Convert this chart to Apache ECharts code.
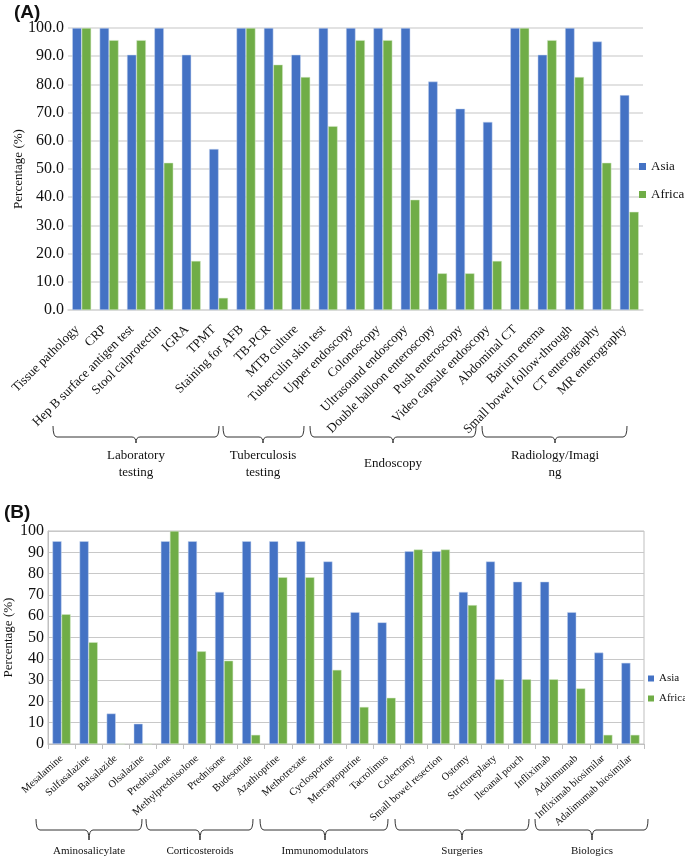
<!DOCTYPE html>
<html><head><meta charset="utf-8">
<script src="https://cdn.jsdelivr.net/npm/echarts@6/dist/echarts.min.js"></script>
<style>html,body{margin:0;padding:0;background:#fff}#c{width:685px;height:858px}</style>
</head><body><div id="c"></div>
<script>
const catsA = ["Tissue pathology","CRP","Hep B surface antigen test","Stool calprotectin","IGRA","TPMT","Staining for AFB","TB-PCR","MTB culture","Tuberculin skin test","Upper endoscopy","Colonoscopy","Ultrasound endoscopy","Double balloon enteroscopy","Push enteroscopy","Video capsule endoscopy","Abdominal CT","Barium enema","Small bowel follow-through","CT enterography","MR enterography"];
const asiaA = [100,100,90.5,100,90.5,57.1,100,100,90.5,100,100,100,100,81.0,71.4,66.7,100,90.5,100,95.2,76.2];
const africaA = [100,95.7,95.7,52.2,17.4,4.3,100,87.0,82.6,65.2,95.7,95.7,39.1,13.0,13.0,17.4,100,95.7,82.6,52.2,34.8];

const catsB = ["Mesalamine","Sulfasalazine","Balsalazide","Olsalazine","Prednisolone","Methylprednisolone","Prednisone","Budesonide","Azathioprine","Methotrexate","Cyclosporine","Mercaptopurine","Tacrolimus","Colectomy","Small bowel resection","Ostomy","Strictureplasty","Ileoanal pouch","Infliximab","Adalimumab","Infliximab biosimilar","Adalimumab biosimilar"];
const asiaB = [95.2,95.2,14.3,9.5,95.2,95.2,71.4,95.2,95.2,95.2,85.7,61.9,57.1,90.5,90.5,71.4,85.7,76.2,76.2,61.9,42.9,38.1];
const africaB = [60.9,47.8,0,0,100,43.5,39.1,4.3,78.3,78.3,34.8,17.4,21.7,91.3,91.3,65.2,30.4,30.4,30.4,26.1,4.3,4.3];

const groupsA = [
  {name:"Laboratory\ntesting", x1:53, x2:219, cx:136},
  {name:"Tuberculosis\ntesting", x1:223, x2:304, cx:263},
  {name:"Endoscopy", x1:310, x2:476, cx:393},
  {name:"Radiology/Imagi\nng", x1:482, x2:627, cx:555}
];
const groupsB = [
  {name:"Aminosalicylate", x1:36, x2:142, cx:89},
  {name:"Corticosteroids", x1:146, x2:253, cx:200},
  {name:"Immunomodulators", x1:260, x2:388, cx:325},
  {name:"Surgeries", x1:395, x2:529, cx:462},
  {name:"Biologics", x1:535, x2:648, cx:592}
];

const serif = "'Liberation Serif','Times New Roman',serif";
const BLUE = '#4472C4', GREEN = '#70AD47';

function brace(g, top, bot, tip, labelY, fs){
  const cx = g.cx, r = 4;
  const st = {stroke:'#333', lineWidth:1, fill:null};
  const curve = (x1,y1,cx1,cy1,x2,y2) => ({type:'bezierCurve', shape:{x1,y1,cpx1:cx1,cpy1:cy1,x2,y2}, style:st, silent:true});
  const line = (x1,y1,x2,y2) => ({type:'line', shape:{x1,y1,x2,y2}, style:st, silent:true});
  return [
    curve(g.x1, top, g.x1, bot, g.x1+r, bot),
    line(g.x1+r, bot, cx-r, bot),
    curve(cx-r, bot, cx, bot, cx, tip),
    curve(cx, tip, cx, bot, cx+r, bot),
    line(cx+r, bot, g.x2-r, bot),
    curve(g.x2-r, bot, g.x2, bot, g.x2, top),
    {type:'text', x:cx, y:labelY, silent:true, style:{text:g.name, font:fs+'px '+serif, fill:'#111', align:'center', verticalAlign:'middle', lineHeight:17}}
  ];
}

const graphics = [];
groupsA.forEach(g => graphics.push(...brace(g, 426, 437, 443, 464, 13)));
groupsB.forEach(g => graphics.push(...brace(g, 819, 830, 840, 851, 11)));

const chart = echarts.init(document.getElementById('c'));
chart.setOption({
  animation:false,
  title:[
    {text:'(A)', left:14, top:3, padding:0, textStyle:{fontFamily:"'Liberation Sans',Arial,sans-serif", fontWeight:'bold', fontSize:19, color:'#111'}},
    {text:'(B)', left:4, top:503, padding:0, textStyle:{fontFamily:"'Liberation Sans',Arial,sans-serif", fontWeight:'bold', fontSize:19, color:'#111'}}
  ],
  legend:[
    {orient:'vertical', left:639, top:160, padding:0, itemWidth:7, itemHeight:7, itemGap:15, data:['Asia','Africa'], textStyle:{fontFamily:serif, fontSize:13, color:'#111'}, icon:'rect', itemStyle:{borderWidth:0}},
    {orient:'vertical', left:648, top:673, padding:0, itemWidth:6, itemHeight:6, itemGap:9, data:['Asia ','Africa '], textStyle:{fontFamily:serif, fontSize:11, color:'#111'}, icon:'rect', itemStyle:{borderWidth:0}}
  ],
  grid:[
    {left:68, right:42, top:28, height:282, outerBoundsMode:'none'},
    {left:48, right:41, top:531, height:213, show:true, borderColor:'#bfbfbf', borderWidth:1, outerBoundsMode:'none'}
  ],
  xAxis:[
    {type:'category', gridIndex:0, data:catsA, axisLine:{lineStyle:{color:'#d9d9d9', width:1.5}}, axisTick:{show:false},
     axisLabel:{interval:0, rotate:45, fontFamily:serif, fontSize:13, color:'#111', margin:22, verticalAlign:'bottom'}},
    {type:'category', gridIndex:1, data:catsB, axisLine:{lineStyle:{color:'#bfbfbf'}}, axisTick:{show:true, length:5, lineStyle:{color:'#bfbfbf'}},
     axisLabel:{interval:0, rotate:42, fontFamily:serif, fontSize:10.5, color:'#111', margin:13}}
  ],
  yAxis:[
    {type:'value', gridIndex:0, min:0, max:100, interval:10, name:'Percentage (%)', nameLocation:'middle', nameGap:43, nameMoveOverlap:false,
     nameTextStyle:{fontFamily:serif, fontSize:13, color:'#111'},
     axisLine:{show:false}, axisTick:{show:false}, splitLine:{lineStyle:{color:'#d9d9d9', width:1.5}},
     axisLabel:{fontFamily:serif, fontSize:16, color:'#111', formatter:v=>v.toFixed(1), margin:4}},
    {type:'value', gridIndex:1, min:0, max:100, interval:10, name:'Percentage (%)', nameLocation:'middle', nameGap:33, nameMoveOverlap:false,
     nameTextStyle:{fontFamily:serif, fontSize:13, color:'#111'},
     axisLine:{show:true, lineStyle:{color:'#bfbfbf'}}, axisTick:{show:false}, splitLine:{lineStyle:{color:'#c8c8c8'}},
     axisLabel:{fontFamily:serif, fontSize:16, color:'#111', margin:4}}
  ],
  series:[
    {name:'Asia', type:'bar', xAxisIndex:0, yAxisIndex:0, data:asiaA, barGap:'0%', barCategoryGap:'31%', itemStyle:{color:BLUE, borderColor:'#c9d6ef', borderWidth:0.5}},
    {name:'Africa', type:'bar', xAxisIndex:0, yAxisIndex:0, data:africaA, itemStyle:{color:GREEN, borderColor:'#d4e8c8', borderWidth:0.5}},
    {name:'Asia ', type:'bar', xAxisIndex:1, yAxisIndex:1, data:asiaB, barGap:'0%', barCategoryGap:'33%', itemStyle:{color:BLUE, borderColor:'#c9d6ef', borderWidth:0.5}},
    {name:'Africa ', type:'bar', xAxisIndex:1, yAxisIndex:1, data:africaB, itemStyle:{color:GREEN, borderColor:'#d4e8c8', borderWidth:0.5}}
  ],
  graphic:graphics
});
</script></body></html>
